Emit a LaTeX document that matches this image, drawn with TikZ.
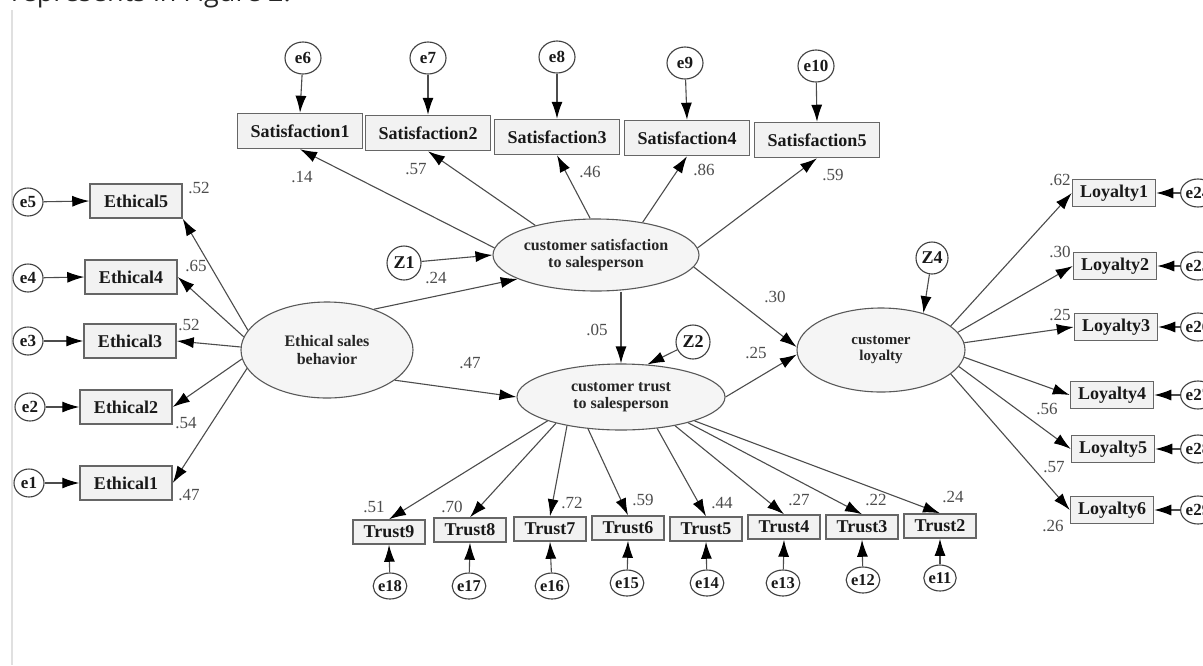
\documentclass[tikz,border=0pt]{standalone}
\usepackage{fontspec}
\setmainfont{Liberation Serif}
\newfontfamily\opensans{Open Sans}
\usetikzlibrary{shapes.geometric,arrows.meta}
\begin{document}
\begin{tikzpicture}[x=1pt,y=-1pt,
  obs/.style={rectangle, draw=black!60, fill=black!5, line width=1.5pt, inner sep=0pt,
    font=\fontsize{18}{18}\selectfont\bfseries, text=black!90},
  satbox/.style={obs, minimum width=125pt, minimum height=35pt},
  ethbox/.style={obs, minimum width=92pt, minimum height=34pt},
  loybox/.style={obs, minimum width=83pt, minimum height=27pt},
  trbox/.style={obs, minimum width=72pt, minimum height=24pt},
  lat/.style={ellipse, draw=black!65, fill=black!4, line width=1.1pt, inner sep=0pt,
    align=center, font=\fontsize{16}{17}\selectfont\bfseries, text=black!85},
  err/.style={ellipse, draw=black!75, fill=white, line width=1.1pt, inner sep=0pt,
    font=\fontsize{16}{16}\selectfont\bfseries, text=black!90},
  errtop/.style={err, minimum width=36pt, minimum height=32pt, font=\fontsize{17}{17}\selectfont\bfseries},
  errside/.style={err, minimum width=30pt, minimum height=28pt, font=\fontsize{17}{17}\selectfont\bfseries},
  errbot/.style={err, minimum width=28pt, minimum height=26pt, font=\fontsize{16.5}{16}\selectfont\bfseries},
  zc/.style={err, minimum width=34pt, minimum height=34pt, font=\fontsize{18}{18}\selectfont\bfseries},
  conn/.style={draw=black!70, line width=1.1pt, -{Latex[length=17pt,width=11pt,color=black]}},
  lbl/.style={font=\fontsize{17}{17}\selectfont, text=black!70, inner sep=0pt},
]
\useasboundingbox (0,0) rectangle (1203,665);
\clip (0,0) rectangle (1203,665);
\fill[white] (0,0) rectangle (1203,665);
\node[anchor=base west, inner sep=0pt, font=\opensans\fontsize{27}{27}\selectfont, text=black!85] (cap) at (11,1) {represents in Figure 2.};
\draw[black!12, line width=2.5pt] (12,10) -- (12,665);

% top error terms and satisfaction indicators
\node[errtop] (e6) at (303,58) {e6};
\node[errtop] (e7) at (428,58) {e7};
\node[errtop] (e8) at (557,57) {e8};
\node[errtop] (e9) at (685,63) {e9};
\node[errtop] (e10) at (816,66) {e10};
\node[satbox] (S1) at (300,131) {Satisfaction1};
\node[satbox] (S2) at (428,133) {Satisfaction2};
\node[satbox] (S3) at (557,137) {Satisfaction3};
\node[satbox] (S4) at (687,138) {Satisfaction4};
\node[satbox] (S5) at (817,140) {Satisfaction5};

% latent variables
\node[lat, minimum width=206pt, minimum height=72pt] (csat) at (596,255) {customer satisfaction\\to salesperson};
\node[lat, minimum width=208pt, minimum height=66pt] (trust) at (621,397) {customer trust\\to salesperson};
\node[lat, minimum width=172pt, minimum height=96pt, font=\fontsize{16}{18}\selectfont\bfseries] (eth) at (327,350) {Ethical sales\\behavior};
\node[lat, minimum width=168pt, minimum height=84pt, font=\fontsize{15}{16}\selectfont\bfseries] (loy) at (881,350) {customer\\loyalty};

\node[zc] (Z1) at (404,263) {Z1};
\node[zc] (Z2) at (693,342) {Z2};
\node[zc, minimum width=32pt, minimum height=32pt] (Z4) at (932,258) {Z4};

% ethical indicators
\node[ethbox] (E5) at (136,201) {Ethical5};
\node[ethbox] (E4) at (131,277) {Ethical4};
\node[ethbox] (E3) at (130,341) {Ethical3};
\node[ethbox] (E2) at (126,407) {Ethical2};
\node[ethbox] (E1) at (126,483) {Ethical1};
\node[errside] (e5) at (28,202) {e5};
\node[errside] (e4) at (28,278) {e4};
\node[errside] (e3) at (28,341) {e3};
\node[errside] (e2) at (30,407) {e2};
\node[errside] (e1) at (29,483) {e1};

% loyalty indicators
\node[loybox] (L1) at (1114,193) {Loyalty1};
\node[loybox] (L2) at (1115,266) {Loyalty2};
\node[loybox] (L3) at (1116,327) {Loyalty3};
\node[loybox] (L4) at (1112,395) {Loyalty4};
\node[loybox] (L5) at (1113,449) {Loyalty5};
\node[loybox] (L6) at (1112,510) {Loyalty6};
\node[errside] (e24) at (1198,193) {e24};
\node[errside] (e25) at (1198,266) {e25};
\node[errside] (e26) at (1198,327) {e26};
\node[errside] (e27) at (1198,395) {e27};
\node[errside] (e28) at (1198,449) {e28};
\node[errside] (e29) at (1198,510) {e29};

% trust indicators
\node[trbox] (T9) at (389,532) {Trust9};
\node[trbox] (T8) at (470,530) {Trust8};
\node[trbox] (T7) at (550,529) {Trust7};
\node[trbox] (T6) at (628,528) {Trust6};
\node[trbox] (T5) at (706,529) {Trust5};
\node[trbox] (T4) at (784,527) {Trust4};
\node[trbox] (T3) at (862,527) {Trust3};
\node[trbox] (T2) at (940,526) {Trust2};
\node[errbot] (e18) at (390,586) {e18};
\node[errbot] (e17) at (469,586) {e17};
\node[errbot] (e16) at (552,586) {e16};
\node[errbot] (e15) at (627,583) {e15};
\node[errbot] (e14) at (707,583) {e14};
\node[errbot] (e13) at (783,583) {e13};
\node[errbot] (e12) at (863,580) {e12};
\node[errbot] (e11) at (940,578) {e11};

% error arrows
\foreach \a/\b in {e6/S1,e7/S2,e8/S3,e9/S4,e10/S5}
  \draw[conn] (\a) -- (\b.north);
\foreach \a/\b in {e5/E5,e4/E4,e3/E3,e2/E2,e1/E1}
  \draw[conn] (\a) -- (\b.west);
\foreach \a/\b in {e24/L1,e25/L2,e26/L3,e27/L4,e28/L5,e29/L6}
  \draw[conn] (\a) -- (\b.east);
\foreach \a/\b in {e18/T9,e17/T8,e16/T7,e15/T6,e14/T5,e13/T4,e12/T3,e11/T2}
  \draw[conn] (\a) -- (\b.south);

% satisfaction loadings
\draw[conn] (csat.176) -- (S1.south);
\draw[conn] (csat.154) -- (S2.south);
\draw[conn] (csat.99) -- (S3.south);
\draw[conn] (csat.35) -- (S4.south);
\draw[conn] (csat.4) -- (S5.south);

% ethical loadings
\draw[conn] (eth.166) -- (E5.south east);
\draw[conn] (eth.171) -- (E4.east);
\draw[conn] (eth.178) -- (E3.east);
\draw[conn] (eth.186) -- (E2.east);
\draw[conn] (eth.193) -- (E1.east);

% loyalty loadings
\draw[conn] (loy.19) -- (L1.west);
\draw[conn] (loy.13) -- (L2.west);
\draw[conn] (loy.5) -- (L3.west);
\draw[conn] (loy.-5) -- (L4.west);
\draw[conn] (loy.-12) -- (L5.west);
\draw[conn] (loy.-19) -- (L6.west);

% trust loadings
\draw[conn] (trust.198) -- (T9.north);
\draw[conn] (trust.202) -- (T8.north);
\draw[conn] (trust.208) -- (T7.north);
\draw[conn] (trust.224) -- (T6.north);
\draw[conn] (trust.319) -- (T5.north);
\draw[conn] (trust.332) -- (T4.north);
\draw[conn] (trust.339) -- (T3.north);
\draw[conn] (trust.342) -- (T2.north);

% structural paths
\draw[conn] (Z1) -- (csat.west);
\draw[conn] (eth.41) -- (csat.197);
\draw[conn] (eth.336) -- (trust.west);
\draw[conn] (trust.north |- csat.south) -- (trust.north);
\draw[conn] (Z2) -- (trust.51);
\draw[conn] (csat.353) -- (loy.178);
\draw[conn] (trust.east) -- (loy.183);
\draw[conn] (Z4) -- (loy.41);

% coefficient labels
\node[lbl] (n1) at (302,177) {.14};
\node[lbl] (n2) at (416,169) {.57};
\node[lbl] (n3) at (590,172) {.46};
\node[lbl] (n4) at (704,170) {.86};
\node[lbl] (n5) at (833,175) {.59};
\node[lbl] (n6) at (199,188) {.52};
\node[lbl] (n7) at (196,266) {.65};
\node[lbl] (n8) at (189,325) {.52};
\node[lbl] (n9) at (186,423) {.54};
\node[lbl] (n10) at (189,495) {.47};
\node[lbl] (n11) at (436,278) {.24};
\node[lbl] (n12) at (597,330) {.05};
\node[lbl] (n13) at (470,363) {.47};
\node[lbl] (n14) at (775,297) {.30};
\node[lbl] (n15) at (756,353) {.25};
\node[lbl] (n16) at (1060,180) {.62};
\node[lbl] (n17) at (1060,252) {.30};
\node[lbl] (n18) at (1060,315) {.25};
\node[lbl] (n19) at (1047,409) {.56};
\node[lbl] (n20) at (1054,467) {.57};
\node[lbl] (n21) at (1053,526) {.26};
\node[lbl] (n22) at (374,507) {.51};
\node[lbl] (n23) at (452,507) {.70};
\node[lbl] (n24) at (572,503) {.72};
\node[lbl] (n25) at (643,500) {.59};
\node[lbl] (n26) at (722,503) {.44};
\node[lbl] (n27) at (799,500) {.27};
\node[lbl] (n28) at (876,500) {.22};
\node[lbl] (n29) at (953,497) {.24};
\end{tikzpicture}
\end{document}
